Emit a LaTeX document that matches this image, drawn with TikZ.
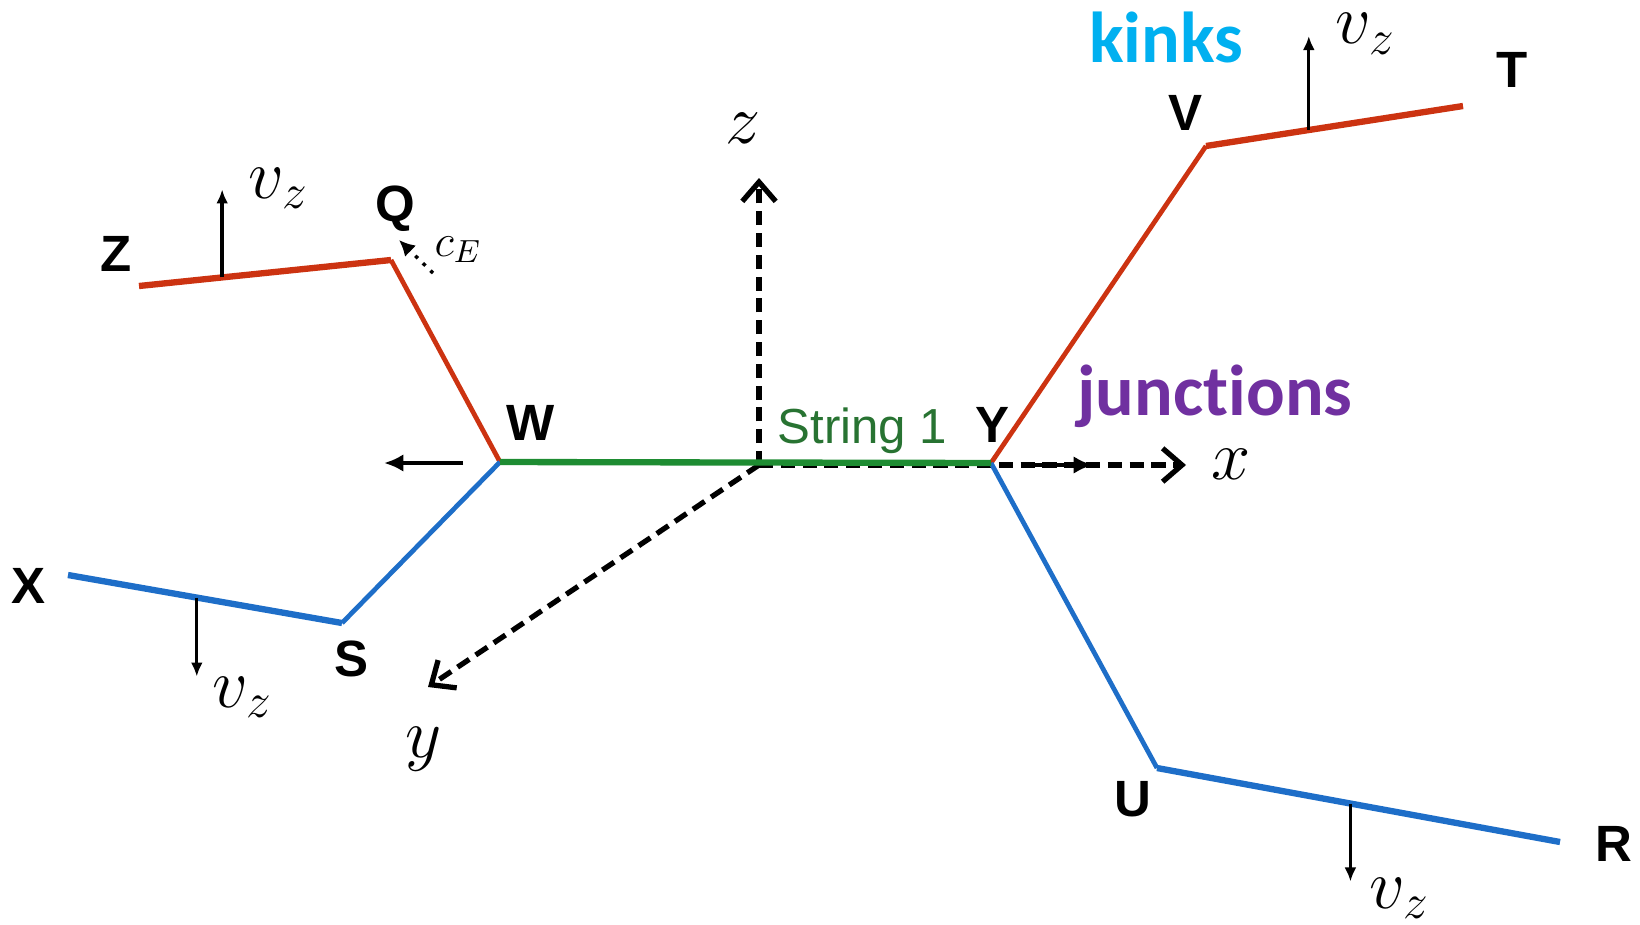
\RequirePackage{fix-cm}
\documentclass[tikz,border=0pt]{standalone}
\usepackage{fontspec}
\newfontfamily\labelfont{Liberation Sans}
\newfontfamily\notefont[Ligatures=NoCommon]{Carlito}
\usetikzlibrary{positioning,calc,arrows.meta}
\definecolor{kinkred}{RGB}{204,51,17}
\definecolor{junctblue}{RGB}{30,110,200}
\definecolor{strgreen}{RGB}{30,140,50}
\definecolor{strtext}{RGB}{40,115,50}
\definecolor{kinkcyan}{RGB}{0,176,240}
\definecolor{junctpurple}{RGB}{112,48,160}

\begin{document}
\begin{tikzpicture}[x=0.01cm, y=-0.01cm,
                strand/.style={line width=1.8pt},
                arm/.style={line width=1.35pt},
                axis/.style={line width=1.5pt, dash pattern=on 4pt off 2.2pt,
                             -{Straight Barb[length=5.5pt,width=9.5pt]}},
                vel/.style={line width=0.95pt, -{Latex[length=4pt,width=3.4pt]}},
                jvel/.style={line width=1.1pt, -{Latex[length=5.5pt,width=5pt]}},
                pt/.style={font=\labelfont\bfseries\fontsize{14.5}{17}\selectfont, inner sep=0pt},
                mlab/.style={font=\fontsize{20}{24}\selectfont, inner sep=0pt, anchor=base west},
                note/.style={font=\notefont\bfseries\fontsize{20.5}{24}\selectfont, inner sep=0pt, anchor=base}]
                \useasboundingbox (0,0) rectangle (1640,924);
                % string points
                \coordinate (Z) at (139,286);
                \coordinate (Q) at (391,260);
                \coordinate (W) at (500,462);
                \coordinate (X) at (68,575);
                \coordinate (S) at (342,623);
                \coordinate (Y) at (991,463);
                \coordinate (V) at (1206,146);
                \coordinate (T) at (1463,106);
                \coordinate (U) at (1157,768);
                \coordinate (R) at (1560,842);
                % axes
                \coordinate (O) at (759,465);
                \coordinate (zt) at (759,178);
                \coordinate (xt) at (1186,465);
                \coordinate (yt) at (428,687);
                \draw[axis] (O) -- (zt);
                \draw[axis] (O) -- (xt);
                \draw[axis] (O) -- (yt);
                % strings
                \draw[strand, kinkred] (Z) -- (Q);
                \draw[arm, kinkred] (Q) -- (W);
                \draw[arm, junctblue] (W) -- (S);
                \draw[strand, junctblue] (S) -- (X);
                \draw[arm, kinkred] (Y) -- (V);
                \draw[strand, kinkred] (V) -- (T);
                \draw[arm, junctblue] (Y) -- (U);
                \draw[strand, junctblue] (U) -- (R);
                \draw[strand, strgreen] (W) -- (Y);
                % velocities
                \coordinate (vZb) at ($(Z)!0.33!(Q)$);
                \coordinate (vZt) at ($(vZb)+(0,-88)$);
                \coordinate (vXb) at ($(X)!0.47!(S)$);
                \coordinate (vXt) at ($(vXb)+(0,79)$);
                \coordinate (vVb) at ($(V)!0.4!(T)$);
                \coordinate (vVt) at ($(vVb)+(0,-94)$);
                \coordinate (vUb) at ($(U)!0.48!(R)$);
                \coordinate (vUt) at ($(vUb)+(0,78)$);
                \draw[vel] (vZb) -- (vZt);
                \draw[vel] (vXb) -- (vXt);
                \draw[vel] (vVb) -- (vVt);
                \draw[vel] (vUb) -- (vUt);
                \coordinate (wa) at (463,463);
                \coordinate (wb) at (384,463);
                \coordinate (ya) at (1030,465);
                \coordinate (yb) at (1093,465);
                \draw[jvel] (wa) -- (wb);
                \draw[jvel] (ya) -- (yb);
                \coordinate (ca) at (433,273);
                \coordinate (cb) at (399,240);
                \draw[line width=1pt, dotted, -{Latex[length=4.5pt,width=4.5pt]}] (ca) -- (cb);
                % labels
                \node[pt] (lZ) at (116,254) {Z};
                \node[pt] (lQ) at (395,209) {Q};
                \node[pt] (lW) at (531,423) {W};
                \node[pt] (lX) at (29,586) {X};
                \node[pt] (lS) at (352,659) {S};
                \node[pt] (lY) at (992,425) {Y};
                \node[pt] (lV) at (1185,113) {V};
                \node[pt] (lT) at (1512,70) {T};
                \node[pt] (lU) at (1133,799) {U};
                \node[pt] (lR) at (1614,844) {R};
                \node[inner sep=0pt, anchor=base west, text=strtext,
                      font=\labelfont\fontsize{14}{17}\selectfont] (s1) at (777,443) {String 1};
                \node[mlab] (lvZ) at (248,198) {$v_z$};
                \node[mlab] (lvX) at (212,707) {$v_z$};
                \node[mlab] (lvV) at (1335,44) {$v_z$};
                \node[mlab] (lvU) at (1369,908) {$v_z$};
                \node[mlab] (lz) at (725,143) {$z$};
                \node[mlab] (lx) at (1211,479) {$x$};
                \node[mlab] (ly) at (405,757) {$y$};
                \node[mlab, font=\fontsize{13}{15}\selectfont] (lc) at (434,256) {$c_E$};
                \node[note, text=kinkcyan] (kinks) at (1166,62) {kinks};
                \node[note, text=junctpurple] (junct) at (1215,415) {junct\kern0pt ions};
            \end{tikzpicture}
\end{document}
